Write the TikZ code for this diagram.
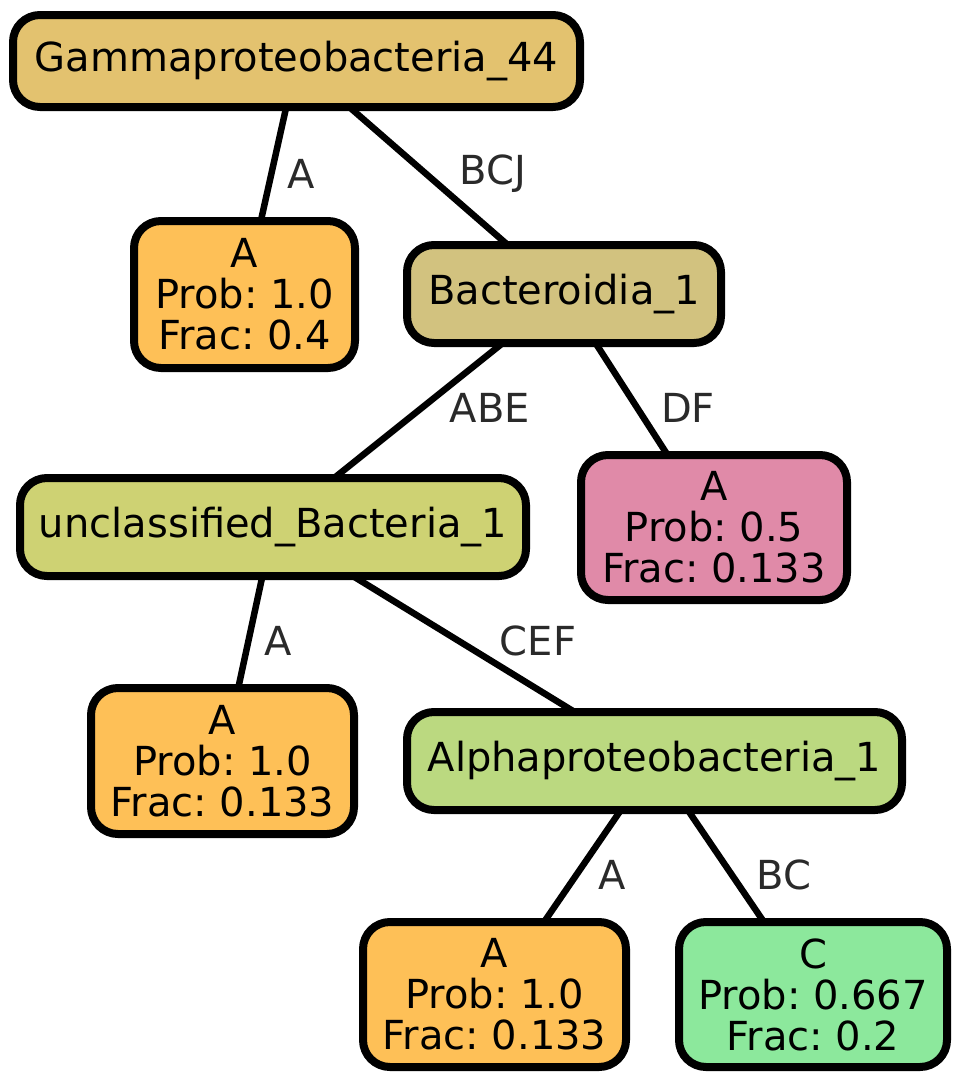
\documentclass[tikz,border=0pt]{standalone}
\usepackage{fontspec}
\setmainfont{DejaVu Sans}
\frenchspacing
\definecolor{cgamma}{HTML}{E3C26F}
\definecolor{corange}{HTML}{FEC057}
\definecolor{cbact}{HTML}{D2C27F}
\definecolor{cuncl}{HTML}{CED273}
\definecolor{cpink}{HTML}{E08AA8}
\definecolor{calpha}{HTML}{BBD980}
\definecolor{cgreen}{HTML}{8CE89C}
\definecolor{clabel}{HTML}{2A2A2A}
\tikzset{
  tnode/.style={draw=black, line width=8pt, rounded corners=27pt, align=center, inner sep=0pt, outer sep=0pt,
    font=\fontsize{40}{41}\selectfont},
  edge/.style={draw=black, line width=6.5pt},
  elabel/.style={text=clabel, font=\fontsize{40}{41}\selectfont, inner sep=0pt}
}
\begin{document}
\begin{tikzpicture}[x=1pt,y=-1pt]
\useasboundingbox (0,0) rectangle (961,1079);
\node[tnode, fill=cgamma, minimum width=567pt, minimum height=92pt] (gamma) at (296.5,61) {Gammaproteobacteria\_44};
\node[tnode, fill=corange, minimum width=221pt, minimum height=147pt] (a1) at (244.5,294.5) {A\\Prob: 1.0\\Frac: 0.4};
\node[tnode, fill=cbact, minimum width=314pt, minimum height=98pt] (bact) at (564,294) {Bacteroidia\_1};
\node[tnode, fill=cuncl, minimum width=506pt, minimum height=98pt] (uncl) at (273,527) {unclassified\_Bacteria\_1};
\node[tnode, fill=cpink, minimum width=266pt, minimum height=145pt] (p5) at (714,527.5) {A\\Prob: 0.5\\Frac: 0.133};
\node[tnode, fill=corange, minimum width=263pt, minimum height=146pt] (a2) at (222.5,761) {A\\Prob: 1.0\\Frac: 0.133};
\node[tnode, fill=calpha, minimum width=495pt, minimum height=98pt] (alpha) at (654.5,761) {Alphaproteobacteria\_1};
\node[tnode, fill=corange, minimum width=263pt, minimum height=145pt] (a3) at (494.5,994.5) {A\\Prob: 1.0\\Frac: 0.133};
\node[tnode, fill=cgreen, minimum width=268pt, minimum height=145pt] (c9) at (813,994.5) {C\\Prob: 0.667\\Frac: 0.2};
\draw[edge] (gamma) -- (a1);
\draw[edge] (gamma) -- (bact);
\draw[edge] (bact) -- (uncl);
\draw[edge] (bact) -- (p5);
\draw[edge] (uncl) -- (a2);
\draw[edge] (uncl) -- (alpha);
\draw[edge] (alpha) -- (a3);
\draw[edge] (alpha) -- (c9);
\node[elabel] (l1) at (301,174) {A};
\node[elabel] (l2) at (493,174) {BCJ};
\node[elabel] (l3) at (490,408) {ABE};
\node[elabel] (l4) at (688,408) {DF};
\node[elabel] (l5) at (278,641) {A};
\node[elabel] (l6) at (538,641) {CEF};
\node[elabel] (l7) at (612,875) {A};
\node[elabel] (l8) at (784,875) {BC};
\end{tikzpicture}
\end{document}
